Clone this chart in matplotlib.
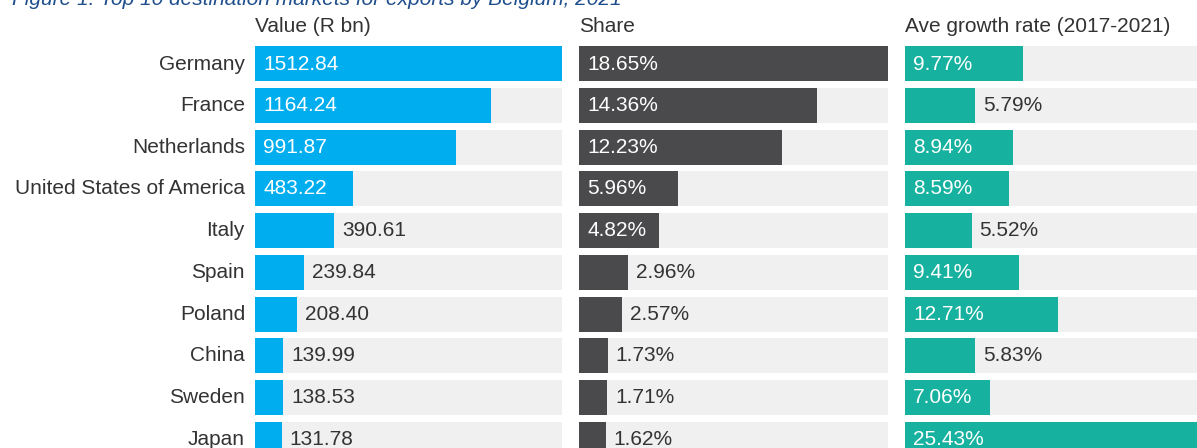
import matplotlib
matplotlib.use("Agg")
import matplotlib.pyplot as plt

plt.rcParams['font.family'] = ['Liberation Sans', 'DejaVu Sans']

countries = ["Germany", "France", "Netherlands", "United States of America", "Italy",
             "Spain", "Poland", "China", "Sweden", "Japan"]
values = [1512.84, 1164.24, 991.87, 483.22, 390.61, 239.84, 208.40, 139.99, 138.53, 131.78]
shares = [18.65, 14.36, 12.23, 5.96, 4.82, 2.96, 2.57, 1.73, 1.71, 1.62]
growth = [9.77, 5.79, 8.94, 8.59, 5.52, 9.41, 12.71, 5.83, 7.06, 25.43]

headers = ["Value (R bn)", "Share", "Ave growth rate (2017-2021)"]
title = "Figure 1: Top 10 destination markets for exports by Belgium, 2021"

W, H = 1197, 448
fig = plt.figure(figsize=(W / 100, H / 100), dpi=100)
fig.patch.set_facecolor("white")

FS = 15
TXT = "#333333"
BG = "#f0f0f0"

panels = [
    (values, "#00aeef", lambda v: f"{v:.2f}", 255, 307),
    (shares, "#4a4a4c", lambda v: f"{v:.2f}%", 579, 309),
    (growth, "#17b1a0", lambda v: f"{v:.2f}%", 905, 307),
]

first_row, last_row = 64, 439
step = (last_row - first_row) / (len(countries) - 1)
row_top = first_row - step / 2
row_bot = last_row + step / 2
n = len(countries)

fig.canvas.draw()
renderer = fig.canvas.get_renderer()

for data, color, fmt, x0, w in panels:
    ax = fig.add_axes([x0 / W, (H - row_bot) / H, w / W, (row_bot - row_top) / H])
    ax.set_xlim(0, max(data))
    ax.set_ylim(n - 0.5, -0.5)
    ax.axis("off")
    ys = list(range(n))
    ax.barh(ys, [max(data)] * n, height=0.84, color=BG, zorder=1)
    ax.barh(ys, data, height=0.84, color=color, zorder=2)
    px_per_unit = w / max(data)
    for y, v in zip(ys, data):
        label = fmt(v)
        t = ax.text(0, y, label, fontsize=FS, va="center", ha="left", zorder=3)
        tw = t.get_window_extent(renderer=renderer).width
        bar_px = v * px_per_unit
        if bar_px >= tw + 18:
            t.set_x(8 / px_per_unit)
            t.set_color("white")
        else:
            t.set_x(v + 8 / px_per_unit)
            t.set_color(TXT)

# Header above each panel
for (data, color, fmt, x0, w), head in zip(panels, headers):
    fig.text(x0 / W, (H - 27) / H, head, fontsize=FS, color=TXT, ha="left", va="center")

# Country labels
for i, c in enumerate(countries):
    yc = first_row + i * step
    fig.text(245 / W, (H - yc) / H, c, fontsize=FS, color=TXT, ha="right", va="center")

fig.text(12 / W, (H - 5) / H, title, fontsize=FS, color="#1f4e8c", style="italic",
         ha="left", va="baseline")

fig.savefig("out.png", dpi=100)
